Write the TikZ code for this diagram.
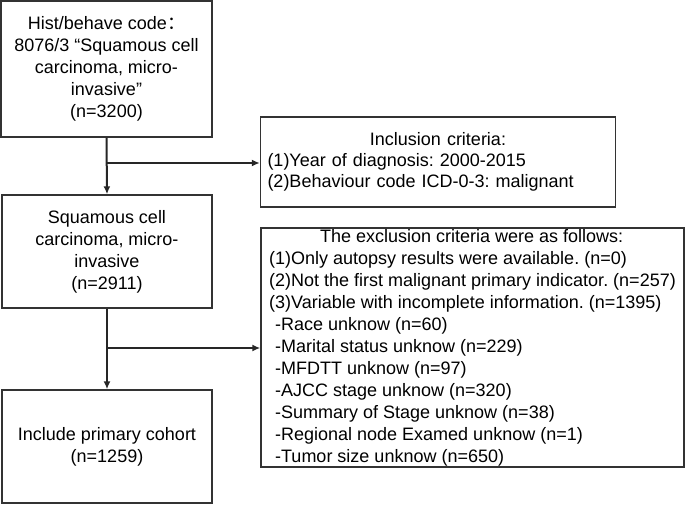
\documentclass[tikz,border=0pt]{standalone}
\usepackage{fontspec}
\setmainfont{Liberation Sans}
\newfontfamily\cjk{Noto Sans CJK SC}
\usetikzlibrary{positioning,arrows.meta}
\frenchspacing

\begin{document}
\begin{tikzpicture}[x=1pt,y=-1pt,
  box/.style={draw=black!80, line width=1.4pt, inner sep=0pt,
    font=\fontsize{18}{22}\selectfont},
  flow/.style={-{Latex[length=8pt,width=7pt]}, line width=2pt, black!85}]
  \useasboundingbox (0,0) rectangle (685,504);

  % left column
  \node [box, align=center, minimum width=211pt, minimum height=136pt] (hist) at (106.5,69)
    {Hist/behave code{\cjk ：}\\8076/3 “Squamous cell\\carcinoma, micro-\\invasive”\\(n=3200)};
  \node [box, align=center, minimum width=210pt, minimum height=113pt] (scc) at (107,251.5)
    {Squamous cell\\carcinoma, micro-\\invasive\\(n=2911)};
  \node [box, align=center, minimum width=210pt, minimum height=113pt] (cohort) at (107,446.5)
    {Include primary cohort\\(n=1259)};

  % right column
  \node [box, minimum width=355pt, minimum height=90pt, text width=341pt, align=left,
    font=\fontsize{18}{21}\selectfont] (incl) at (438,162)
    {\makebox[\linewidth]{Inclusion criteria:}\\
     (1)Year of diagnosis: 2000-2015\\
     (2)Behaviour code ICD-0-3: malignant};
  \node [box, minimum width=423pt, minimum height=239pt, align=left] (excl) at (472.5,347.5)
    {\makebox[405pt]{The exclusion criteria were as follows:}\\
     (1)Only autopsy results were available. (n=0)\\
     (2)Not the first malignant primary indicator. (n=257)\\
     (3)Variable with incomplete information. (n=1395)\\
     \hspace{6pt}-Race unknow (n=60)\\
     \hspace{6pt}-Marital status unknow (n=229)\\
     \hspace{6pt}-MFDTT unknow (n=97)\\
     \hspace{6pt}-AJCC stage unknow (n=320)\\
     \hspace{6pt}-Summary of Stage unknow (n=38)\\
     \hspace{6pt}-Regional node Examed unknow (n=1)\\
     \hspace{6pt}-Tumor size unknow (n=650)};

  \coordinate (b1) at (107,163);
  \coordinate (b2) at (107,348);

  \draw [flow] (hist.south) -- (scc.north);
  \draw [flow] (b1) -- (b1 -| incl.west);
  \draw [flow] (scc.south) -- (cohort.north);
  \draw [flow] (b2) -- (b2 -| excl.west);
\end{tikzpicture}
\end{document}
